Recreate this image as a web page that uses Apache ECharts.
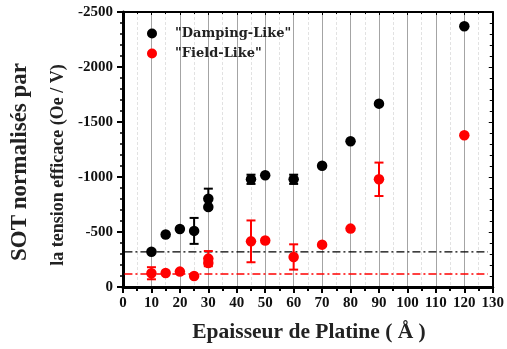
<!DOCTYPE html>
<html>
<head>
<meta charset="utf-8">
<script src="https://cdn.jsdelivr.net/npm/echarts@6/dist/echarts.min.js"></script>
<style>html,body{margin:0;padding:0;background:#fff;}#c{width:507px;height:349px;}</style>
</head>
<body>
<div id="c"></div>
<script>
// Data
const dampX = [10, 15, 20, 25, 30, 30, 45, 50, 60, 70, 80, 90, 120];
const dampY = [-320, -478, -527, -510, -803, -727, -979, -1016, -979, -1103, -1325, -1667, -2370];
const dampErr = [0, 0, 0, 118, 91, 0, 42, 0, 42, 0, 0, 0, 0];
const fieldX = [10, 15, 20, 25, 30, 30, 45, 50, 60, 70, 80, 90, 120];
const fieldY = [-125, -127, -140, -100, -258, -218, -415, -422, -273, -385, -531, -979, -1379];
const fieldErr = [55, 0, 0, 0, 69, 0, 190, 0, 115, 0, 0, 152, 0];
const refLineX = [0.5, 128.3];
const dampRef = -320;
const fieldRef = -118;
const seriesNames = ['"Damping-Like"', '"Field-Like"'];
const xTitle = 'Epaisseur de Platine ( Å )';
const yTitle1 = 'SOT normalisés par';
const yTitle2 = 'la tension efficace (Oe / V)';

const FONT = '"Liberation Serif", "Times New Roman", serif';
const BLACK = '#000000';
const RED = '#ff0000';

function pts(xs, ys, es) { return xs.map((x, i) => es ? [x, ys[i], es[i]] : [x, ys[i]]); }

function errRender(color) {
  return function (params, api) {
    const e = api.value(2);
    if (!e) return null;
    const x = api.value(0), y = api.value(1);
    const top = api.coord([x, y - e]);
    const bot = api.coord([x, y + e]);
    const hw = 4.5;
    const st = { stroke: color, lineWidth: 2 };
    return {
      type: 'group',
      children: [
        { type: 'line', shape: { x1: top[0], y1: top[1], x2: bot[0], y2: bot[1] }, style: st },
        { type: 'line', shape: { x1: top[0] - hw, y1: top[1], x2: top[0] + hw, y2: top[1] }, style: st },
        { type: 'line', shape: { x1: bot[0] - hw, y1: bot[1], x2: bot[0] + hw, y2: bot[1] }, style: st }
      ]
    };
  };
}

const chart = echarts.init(document.getElementById('c'), null, { renderer: 'canvas' });
const tickLabel = { fontFamily: FONT, fontWeight: 'bold', fontSize: 15, color: '#111' };

chart.setOption({
  animation: false,
  backgroundColor: '#fff',
  grid: { left: 123, right: 11, top: 12, bottom: 62, containLabel: false },
  legend: {
    data: seriesNames,
    orient: 'vertical',
    left: 142, top: 22,
    itemWidth: 10, itemHeight: 10, itemGap: 7,
    icon: 'circle',
    textStyle: { fontFamily: '"DejaVu Serif", serif', fontWeight: 'bold', fontSize: 13, color: '#222',
      padding: [0, 0, 0, 13] }
  },
  xAxis: [{
    type: 'value', min: 0, max: 130, interval: 10,
    axisLine: { show: true, onZero: false, lineStyle: { color: BLACK, width: 3 } },
    axisTick: { show: true, inside: false, length: 6, lineStyle: { color: BLACK, width: 2 } },
    minorTick: { show: true, splitNumber: 2, length: 4, lineStyle: { color: BLACK, width: 2 } },
    axisLabel: Object.assign({ margin: 9 }, tickLabel),
    splitLine: { show: true, lineStyle: { color: '#a4a4a4', width: 1 } },
    minorSplitLine: { show: true, lineStyle: { color: '#e2e2e2', width: 1, type: [3, 2] } }
  }, {
    type: 'value', position: 'top', min: 0, max: 130, interval: 10,
    axisLine: { show: true, onZero: false, lineStyle: { color: BLACK, width: 2 } },
    axisTick: { show: true, inside: true, length: 3, lineStyle: { color: BLACK } },
    minorTick: { show: true, splitNumber: 2, length: 2, lineStyle: { color: BLACK } },
    axisLabel: { show: false }, splitLine: { show: false }
  }],
  yAxis: [{
    type: 'value', min: -2500, max: 0, interval: 500, inverse: true,
    axisLine: { show: true, onZero: false, lineStyle: { color: BLACK, width: 3 } },
    axisTick: { show: true, length: 6, lineStyle: { color: BLACK, width: 2 } },
    minorTick: { show: true, splitNumber: 5, length: 3, lineStyle: { color: BLACK, width: 1.5 } },
    axisLabel: Object.assign({ margin: 10, formatter: v => String(v) }, tickLabel),
    splitLine: { show: false }
  }, {
    type: 'value', position: 'right', min: -2500, max: 0, interval: 500, inverse: true,
    axisLine: { show: true, onZero: false, lineStyle: { color: BLACK, width: 2 } },
    axisTick: { show: true, inside: true, length: 4, lineStyle: { color: BLACK } },
    minorTick: { show: true, splitNumber: 5, length: 3, lineStyle: { color: BLACK } },
    axisLabel: { show: false }, splitLine: { show: false }
  }],
  series: [
    { type: 'line', data: refLineX.map(x => [x, dampRef]), symbol: 'none', silent: true,
      lineStyle: { color: BLACK, width: 1.3, type: [8, 3, 2, 3] }, z: 1 },
    { type: 'line', data: refLineX.map(x => [x, fieldRef]), symbol: 'none', silent: true,
      lineStyle: { color: RED, width: 1.3, type: [8, 3, 2, 3] }, z: 1 },
    { type: 'custom', renderItem: errRender(BLACK), data: pts(dampX, dampY, dampErr), z: 2 },
    { type: 'custom', renderItem: errRender(RED), data: pts(fieldX, fieldY, fieldErr), z: 2 },
    { name: seriesNames[0], type: 'scatter', data: pts(dampX, dampY), symbol: 'circle', symbolSize: 10.5,
      itemStyle: { color: BLACK, opacity: 1 }, z: 3 },
    { name: seriesNames[1], type: 'scatter', data: pts(fieldX, fieldY), symbol: 'circle', symbolSize: 10.5,
      itemStyle: { color: RED, opacity: 1 }, z: 3 }
  ],
  graphic: [
    { type: 'text', x: 20, y: 162, rotation: Math.PI / 2,
      style: { text: yTitle1, font: 'bold 23px ' + FONT, fill: '#222', textAlign: 'center', textVerticalAlign: 'middle' } },
    { type: 'text', x: 58, y: 165, rotation: Math.PI / 2,
      style: { text: yTitle2, font: 'bold 18px ' + FONT, fill: '#222', textAlign: 'center', textVerticalAlign: 'middle' } },
    { type: 'text', x: 309, y: 332,
      style: { text: xTitle, font: 'bold 21.5px ' + FONT, fill: '#222', textAlign: 'center', textVerticalAlign: 'middle' } }
  ]
});
</script>
</body>
</html>
